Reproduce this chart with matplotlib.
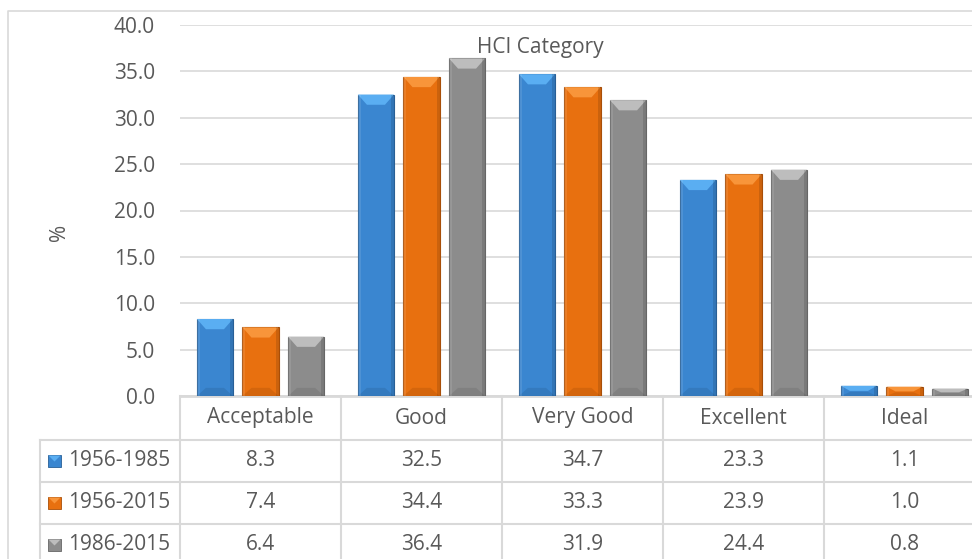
import numpy as np
import matplotlib
matplotlib.use('Agg')
import matplotlib.pyplot as plt
from matplotlib.patches import Polygon, Rectangle
from matplotlib import transforms

plt.rcParams['font.family'] = ['Open Sans', 'DejaVu Sans']

# Data
categories = ['Acceptable', 'Good', 'Very Good', 'Excellent', 'Ideal']
periods = ['1956-1985', '1956-2015', '1986-2015']
p1956_1985 = [8.3, 32.5, 34.7, 23.3, 1.1]
p1956_2015 = [7.4, 34.4, 33.3, 23.9, 1.0]
p1986_2015 = [6.4, 36.4, 31.9, 24.4, 0.8]
series = [p1956_1985, p1956_2015, p1986_2015]

# body, top highlight, edge
colors = ['#3a86d0', '#e8700f', '#8c8c8c']
tops = ['#5aaef2', '#f8953a', '#bdbdbd']
edges = ['#285f96', '#a84e08', '#666666']

text_col = '#595959'
line_col = '#d9d9d9'
fs = 15

fig = plt.figure(figsize=(9.72, 5.59), dpi=100)

# pixel-space layer for the frame and the data table
bg = fig.add_axes([0, 0, 1, 1])
bg.set_xlim(0, 972)
bg.set_ylim(559, 0)
bg.axis('off')

ax = fig.add_axes([180 / 972, (559 - 396) / 559, 805 / 972, 371 / 559])
ax.set_facecolor('none')
for s in ax.spines.values():
    s.set_visible(False)

x = np.arange(len(categories))
width = 0.224
offsets = [-0.283, 0.0, 0.283]

for k, vals in enumerate(series):
    bars = ax.bar(x + offsets[k], vals, width, color=colors[k],
                  edgecolor=edges[k], linewidth=0.8, zorder=3)
    for b in bars:
        bx, bw, bh = b.get_x(), b.get_width(), b.get_height()
        bev = min(1.1, bh / 2)
        d = bw * 0.25
        # lighter top bevel
        ax.add_patch(Polygon([(bx, bh), (bx + bw, bh), (bx + bw - d, bh - bev),
                              (bx + d, bh - bev)], closed=True,
                             facecolor=tops[k], edgecolor='none', zorder=4))
        # darker bottom bevel
        ax.add_patch(Polygon([(bx, 0), (bx + bw, 0), (bx + bw - d, bev * 0.8),
                              (bx + d, bev * 0.8)], closed=True,
                             facecolor=edges[k], alpha=0.3, edgecolor='none', zorder=4))
        # side shading
        ax.add_patch(Rectangle((bx, 0), bw * 0.08, bh, facecolor='white', alpha=0.1,
                               edgecolor='none', zorder=4))
        ax.add_patch(Rectangle((bx + bw * 0.92, 0), bw * 0.08, bh, facecolor='black',
                               alpha=0.12, edgecolor='none', zorder=4))

ax.set_xlim(-0.5, len(categories) - 0.5)
ax.set_ylim(0, 40)
ax.set_yticks(np.arange(0, 41, 5))
ax.set_yticklabels([f'{v:.1f}' for v in np.arange(0, 41, 5)])
ax.set_xticks([])
ax.tick_params(axis='y', length=0, pad=18, labelsize=fs, labelcolor=text_col)
ax.grid(axis='y', color=line_col, linewidth=1.2, zorder=0)
ax.set_axisbelow(True)

fig.text(540 / 972, 1 - 48 / 559, 'HCI Category', ha='center', va='center',
         fontsize=fs, color=text_col)
fig.text(60 / 972, 1 - 232 / 559, '%', ha='center', va='center', rotation=90,
         fontsize=fs, color=text_col)

# outer chart frame
bg.plot([7.5, 7.5, 972], [559, 10.5, 10.5], color=line_col, lw=1.2)

# data table grid
col_edges = [180, 341, 502, 663, 824, 985]
bg.plot([180, 985], [396, 396], color=line_col, lw=2.0)
for yy in [440, 482, 524]:
    bg.plot([40, 985], [yy, yy], color=line_col, lw=1.5)
bg.plot([40, 40], [440, 559], color=line_col, lw=1.5)
for xx in col_edges[:-1]:
    bg.plot([xx, xx], [396, 559], color=line_col, lw=1.5)

# table text: x in data units, y in pixels
tr = transforms.blended_transform_factory(ax.transData, bg.transData)
for i, c in enumerate(categories):
    fig.text(i, 418, c, transform=tr, ha='center', va='center', fontsize=fs, color=text_col)

row_y = [461, 503, 545]
for k, vals in enumerate(series):
    for i, v in enumerate(vals):
        fig.text(i, row_y[k], f'{v:.1f}', transform=tr, ha='center', va='center',
                 fontsize=fs, color=text_col)
    # legend key
    y0 = row_y[k]
    bg.add_patch(Rectangle((48, y0 - 6), 13, 12, facecolor=colors[k], edgecolor=edges[k], lw=0.6))
    bg.add_patch(Polygon([(48.5, y0 - 5.5), (60.5, y0 - 5.5), (54.5, y0 + 0.5)], closed=True,
                         facecolor=tops[k], edgecolor='none'))
    bg.text(68, y0, periods[k], ha='left', va='center', fontsize=fs, color=text_col)

fig.savefig('out.png', dpi=100)
